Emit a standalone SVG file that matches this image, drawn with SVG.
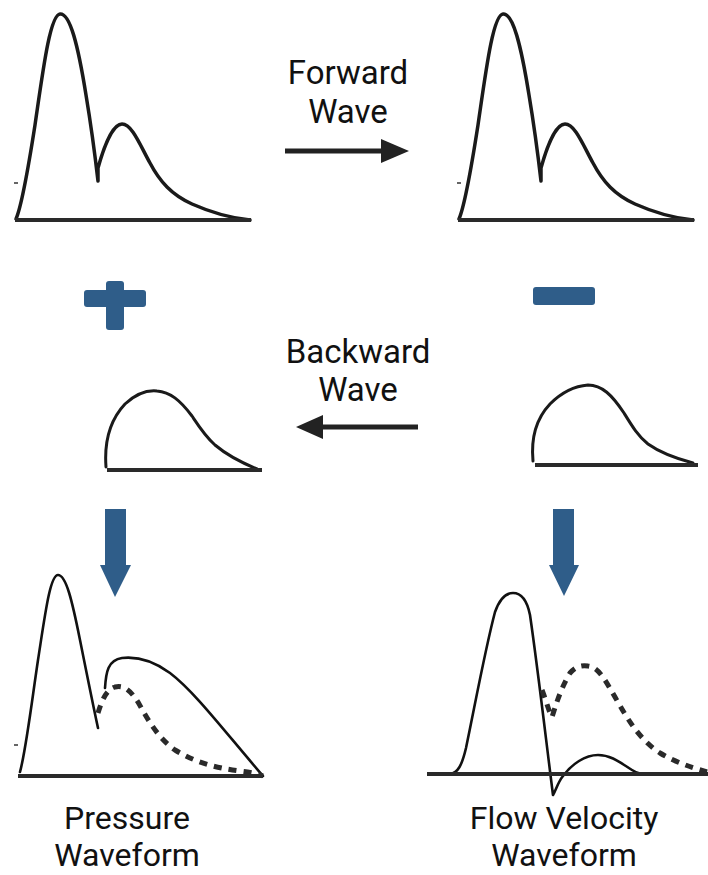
<svg xmlns="http://www.w3.org/2000/svg" width="708" height="875" viewBox="0 0 708 875">
<style>
.lbl{font-family:Roboto,"Liberation Sans",sans-serif;font-size:33px;fill:#111;text-anchor:middle}
.lbl2{font-family:Roboto,"Liberation Sans",sans-serif;font-size:32px;fill:#111;text-anchor:middle}
.wave{fill:none;stroke:#1a1a1a;stroke-width:3.5;stroke-linecap:round;stroke-linejoin:round}
.thin{fill:none;stroke:#111;stroke-width:2.6;stroke-linecap:round;stroke-linejoin:round}
.dash{fill:none;stroke:#2a2a2a;stroke-width:5;stroke-dasharray:8 7}
.base{stroke:#2a2a2a;stroke-width:4}
.tick{stroke:#333;stroke-width:1.5}
.blue{fill:#2f5d89}
.dark{fill:#222}
</style>
<defs>
<path id="pw" d="M16,219 C22,205 28,170 35,125 C43,70 50,15 60,14 C70,13 78,45 86,95 C91,125 95,155 98,181 L98,168 C103,150 112,124 122,124 C132,124 140,145 150,163 C160,182 172,195 192,204 C210,212 230,218 250,220"/>
</defs>
<g id="forward-top-left">
<use href="#pw" class="wave"/>
<line class="base" x1="15" y1="220" x2="251" y2="220"/>
<line class="tick" x1="14" y1="183" x2="18" y2="183"/>
</g>
<g id="forward-top-right" transform="translate(443,0)">
<use href="#pw" class="wave"/>
<line class="base" x1="15" y1="220" x2="251" y2="220"/>
<line class="tick" x1="14" y1="183" x2="18" y2="183"/>
</g>
<g id="forward-label">
<text class="lbl" x="348" y="84">Forward</text>
<text class="lbl" x="348" y="123">Wave</text>
</g>
<g id="plus">
<rect class="blue" x="84" y="290" width="62" height="17" rx="3"/>
<rect class="blue" x="106" y="281" width="18" height="49" rx="3"/>
</g>
<g id="minus">
<rect class="blue" x="533" y="287" width="62" height="18" rx="3"/>
</g>
<g id="backward-label">
<text class="lbl" x="358" y="363">Backward</text>
<text class="lbl" x="358" y="401">Wave</text>
</g>
<g id="backward-left">
<path class="wave" style="stroke-width:3" d="M106,467 C104,440 110,420 125,404 C137,393 147,390 157,391 C170,392 180,400 192,416 C200,428 205,436 215,445 C228,456 240,462 257,469"/>
<line class="base" x1="107" y1="470" x2="262" y2="470"/>
</g>
<g id="backward-right">
<path class="wave" style="stroke-width:3" d="M533,461 C531,440 535,420 550,404 C562,392 575,386 588,385 C602,385 612,395 624,413 C632,426 638,436 648,444 C662,454 678,459 693,463"/>
<line class="base" x1="535" y1="465" x2="698" y2="465"/>
</g>
<g id="pressure-waveform">
<path class="thin" d="M20,772 C26,750 32,700 38,660 C45,615 50,575 58,575 C66,575 72,600 80,640 C87,675 93,705 98,728"/>
<path class="thin" d="M105,688 C106,672 108,660 122,658 C140,656 155,662 170,673 C195,692 225,732 263,776"/>
<path class="dash" d="M98,713 C102,700 106,690 115,687 C124,685 130,690 138,702 C148,720 158,738 175,750 C195,762 215,768 240,771 C250,772 258,774 263,776"/>
<line class="base" x1="18" y1="776" x2="263" y2="776"/>
<line class="tick" x1="14" y1="745" x2="18" y2="745"/>
</g>
<g id="flow-waveform">
<path class="thin" d="M450,774 C458,773 462,765 466,748 C475,705 485,650 495,612 C500,598 506,593 513,593 C521,593 527,600 530,615 C538,670 546,740 553,795 C556,790 558,782 563,776 C572,764 585,755 598,755 C612,755 622,764 632,770 C638,774 642,774 648,774"/>
<path class="dash" d="M542,690 C546,700 549,712 552,717 C556,705 560,690 570,673 C576,666 582,665 588,666 C598,667 604,678 615,697 C628,720 640,740 660,753 C675,762 690,767 707,772"/>
<line class="base" x1="427" y1="774" x2="708" y2="774"/>
</g>
<g id="pressure-label">
<text class="lbl2" x="127" y="829">Pressure</text>
<text class="lbl2" x="127" y="866">Waveform</text>
</g>
<g id="flow-label">
<text class="lbl2" x="564" y="829">Flow Velocity</text>
<text class="lbl2" x="564" y="866">Waveform</text>
</g>
<g id="connectors">
<line stroke="#222" stroke-width="5" x1="285" y1="151" x2="384" y2="151"/>
<polygon class="dark" points="381,139 409,151 381,163"/>
<line stroke="#222" stroke-width="5" x1="418" y1="427" x2="320" y2="427"/>
<polygon class="dark" points="323,415 296,427 323,439"/>
<polygon class="blue" points="105,509 126,509 126,565 131,565 115,597 100,565 105,565"/>
<polygon class="blue" points="553,509 574,509 574,565 579,565 564,596 549,565 553,565"/>
</g>
</svg>
